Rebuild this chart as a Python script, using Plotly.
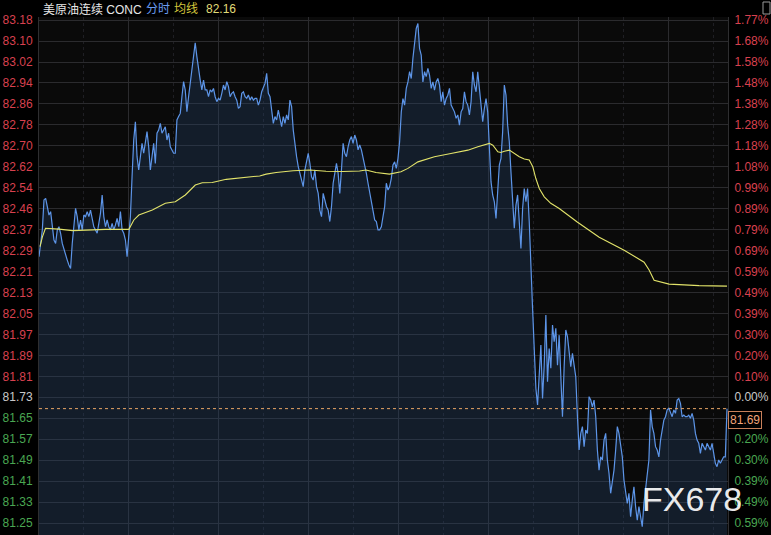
import numpy as np
import plotly.graph_objects as go

# ---- price series (1-minute style samples) ----
seg1 = [82.268, 82.319, 82.371, 82.486, 82.492, 82.460, 82.428, 82.441, 82.383, 82.332,
        82.319, 82.371, 82.383, 82.358, 82.319, 82.294, 82.275, 82.255, 82.236, 82.223,
        82.319, 82.396, 82.454, 82.422, 82.371, 82.409, 82.371, 82.428, 82.422, 82.441,
        82.422, 82.447, 82.409, 82.383, 82.371, 82.358, 82.396, 82.435, 82.505, 82.422,
        82.383, 82.409, 82.383, 82.371, 82.396, 82.371, 82.390, 82.415, 82.383, 82.441,
        82.371, 82.358, 82.332, 82.268, 82.345, 82.422, 82.575, 82.716, 82.786, 82.652,
        82.601, 82.652, 82.703, 82.665, 82.716, 82.748, 82.690, 82.601, 82.652, 82.703,
        82.626, 82.742, 82.754, 82.780, 82.742, 82.754, 82.767, 82.716, 82.742, 82.690,
        82.678, 82.665, 82.665, 82.793, 82.806, 82.818, 82.882, 82.940, 82.908, 82.825,
        82.882, 82.933, 82.972, 83.023, 83.089, 83.036, 82.985, 82.946, 82.908, 82.946,
        82.908, 82.908, 82.882, 82.908, 82.901]
seg2 = [82.914, 82.882, 82.863, 82.876, 82.869, 82.895, 82.927, 82.908, 82.940, 82.921,
        82.882, 82.895, 82.901, 82.882, 82.869, 82.837, 82.844, 82.895, 82.901, 82.882,
        82.876, 82.889, 82.869, 82.882, 82.869, 82.876, 82.876, 82.850, 82.869, 82.901,
        82.914, 82.933, 82.972, 82.895, 82.882, 82.825, 82.780, 82.806, 82.793, 82.831,
        82.799, 82.767, 82.806, 82.780, 82.812, 82.793, 82.869, 82.844, 82.754, 82.690,
        82.652, 82.614, 82.588, 82.562, 82.537, 82.601, 82.639, 82.665, 82.626, 82.575,
        82.562, 82.601, 82.537, 82.511, 82.447, 82.422, 82.511, 82.486, 82.460, 82.447,
        82.403, 82.460, 82.550, 82.588, 82.626, 82.588, 82.511, 82.601, 82.703, 82.665,
        82.652, 82.690, 82.716, 82.729, 82.703, 82.735, 82.716, 82.678, 82.697, 82.678,
        82.652, 82.626, 82.588, 82.550, 82.511, 82.473, 82.441, 82.409, 82.403, 82.371,
        82.371, 82.383, 82.422, 82.460, 82.550, 82.524, 82.537]
seg3 = [82.569, 82.620, 82.632, 82.607, 82.645, 82.709, 82.824, 82.875, 82.850, 82.914,
        82.939, 82.978, 82.952, 83.029, 83.080, 83.144, 83.163, 83.067, 83.042, 82.939,
        82.978, 82.959, 82.991, 82.965, 82.914, 82.939, 82.907, 82.939, 82.952, 82.927,
        82.863, 82.901, 82.850, 82.875, 82.888, 82.914, 82.850, 82.837, 82.824, 82.799,
        82.812, 82.773, 82.824, 82.837, 82.901, 82.863, 82.850, 82.812, 82.863, 82.978,
        82.927, 82.901, 82.978, 82.914, 82.837, 82.786, 82.837, 82.875, 82.824, 82.684,
        82.556, 82.505, 82.479, 82.415, 82.505, 82.620, 82.645, 82.748, 82.927, 82.888,
        82.773, 82.709, 82.594, 82.505, 82.377, 82.466, 82.505, 82.402, 82.300, 82.453,
        82.530, 82.479, 82.530, 82.402, 82.198, 82.070, 81.916, 81.763, 81.699, 81.814,
        81.929, 81.724, 81.852, 82.044, 81.788, 81.916, 81.840, 82.006, 81.942, 81.993,
        81.852, 81.967]
seg4 = [81.820, 81.654, 81.846, 81.987, 81.961, 81.897, 81.846, 81.897, 81.859, 81.807,
        81.654, 81.526, 81.590, 81.616, 81.539, 81.603, 81.590, 81.731, 81.718, 81.692,
        81.718, 81.654, 81.526, 81.449, 81.500, 81.488, 81.564, 81.590, 81.488, 81.437,
        81.360, 81.411, 81.449, 81.526, 81.616, 81.590, 81.552, 81.500, 81.411, 81.373,
        81.321, 81.360, 81.270, 81.334, 81.385, 81.309, 81.257, 81.309, 81.270, 81.232,
        81.321, 81.385, 81.424, 81.488, 81.680, 81.616, 81.590, 81.539, 81.526, 81.500,
        81.564, 81.603, 81.641, 81.654, 81.680, 81.686, 81.667, 81.654, 81.680, 81.667,
        81.718, 81.724, 81.705, 81.654, 81.660, 81.654, 81.654, 81.660, 81.648, 81.667,
        81.641, 81.590, 81.564, 81.552, 81.513, 81.552, 81.539, 81.526, 81.552, 81.539,
        81.526, 81.552, 81.513, 81.475, 81.462, 81.488, 81.475, 81.488, 81.500, 81.500,
        81.685]

# ---- average line (minute, value) ----
avg_t = [2, 7, 13, 40, 67, 100, 133, 180, 190, 200, 227, 253, 273, 293, 313, 327, 347,
         375, 409, 442, 455, 475, 509, 542, 575, 609, 642, 655, 675, 702, 725, 739, 759,
         792, 825, 859, 879, 892, 902, 909, 919, 925, 932, 942, 952, 962, 972, 982, 989,
         995, 1002, 1012, 1025, 1042, 1078, 1122, 1172, 1212, 1222, 1232, 1262, 1322, 1378]
avg_v = [82.307, 82.345, 82.377, 82.374, 82.368, 82.371, 82.373, 82.373, 82.409, 82.428,
         82.447, 82.473, 82.479, 82.505, 82.543, 82.552, 82.553, 82.565, 82.571, 82.578,
         82.585, 82.591, 82.598, 82.601, 82.596, 82.595, 82.597, 82.601, 82.591, 82.585,
         82.594, 82.607, 82.632, 82.652, 82.664, 82.677, 82.690, 82.699, 82.703, 82.696,
         82.671, 82.668, 82.673, 82.677, 82.664, 82.652, 82.643, 82.639, 82.613, 82.569,
         82.530, 82.498, 82.473, 82.453, 82.401, 82.343, 82.293, 82.247, 82.217, 82.178,
         82.163, 82.157, 82.155]

left_labels = ["83.18", "83.10", "83.02", "82.94", "82.86", "82.78", "82.70", "82.62",
               "82.54", "82.46", "82.37", "82.29", "82.21", "82.13", "82.05", "81.97",
               "81.89", "81.81", "81.73", "81.65", "81.57", "81.49", "81.41", "81.33", "81.25"]
right_labels = ["1.77%", "1.68%", "1.58%", "1.48%", "1.38%", "1.28%", "1.18%", "1.08%",
                "0.99%", "0.89%", "0.79%", "0.69%", "0.59%", "0.49%", "0.39%", "0.30%",
                "0.20%", "0.10%", "0.00%", "", "0.20%", "0.30%", "0.39%", "0.49%", "0.59%"]
axis_top, axis_bottom = 83.176, 81.246
ref_index = 18  # previous close row (81.73 / 0.00%)

header_name = "美原油连续 CONC"
header_mode = "分时"
header_avg = "均线"
header_avg_val = "82.16"
last_label = "81.69"
watermark = "FX678"

price = seg1 + seg2 + seg3 + seg4
minutes = np.linspace(0, 1378, len(price))

RED, GREEN, GREY = "#d8414f", "#4aa752", "#c8c8c8"

def colored(labels):
    out = []
    for i, s in enumerate(labels):
        c = RED if i < ref_index else (GREY if i == ref_index else GREEN)
        out.append(f'<span style="color:{c}">{s}</span>' if s else "")
    return out

tickvals = list(np.linspace(axis_top, axis_bottom, len(left_labels)))

fig = go.Figure()
fig.add_trace(go.Scatter(
    x=minutes, y=price, mode="lines",
    line=dict(color="#5d95e8", width=1.2),
    fill="tozeroy", fillcolor="rgba(40,70,110,0.33)",
    hoverinfo="skip", showlegend=False))
fig.add_trace(go.Scatter(
    x=avg_t, y=avg_v, mode="lines",
    line=dict(color="#e2e36a", width=1.1),
    hoverinfo="skip", showlegend=False))
fig.add_trace(go.Scatter(
    x=[minutes[-1]], y=[price[-1]], yaxis="y2", mode="lines",
    hoverinfo="skip", showlegend=False))

yr = [81.200, 83.188]
tickfont = dict(family="Liberation Sans, Arial, sans-serif", size=12)
fig.update_layout(
    width=771, height=535,
    margin=dict(l=39, r=43, t=17, b=0),
    paper_bgcolor="#000000", plot_bgcolor="#0a0a0a",
    xaxis=dict(range=[0, 1380], tickvals=[180, 360, 540, 720, 900, 1080, 1260],
               showticklabels=False, ticks="", showgrid=True, gridcolor="#2b2b2e",
               gridwidth=1, zeroline=False, showline=False, automargin=False,
               minor=dict(tickvals=[90, 270, 450, 630, 810, 990, 1170, 1350],
                          showgrid=True, gridcolor="#1f1f24", griddash="dot")),
    yaxis=dict(range=yr, tickvals=tickvals, ticktext=colored(left_labels),
               tickfont=tickfont, ticks="", showgrid=True, gridcolor="#2b2b2e",
               zeroline=False, showline=True, linecolor="#2e2e30", ticklabelstandoff=3,
               automargin=False),
    yaxis2=dict(range=yr, overlaying="y", side="right", tickvals=tickvals,
                ticktext=colored(right_labels), tickfont=tickfont, ticks="",
                showgrid=False, zeroline=False, showline=True, linecolor="#2e2e30",
                ticklabelstandoff=3, automargin=False),
)

# last-price dashed line + label box
fig.add_shape(type="line", xref="paper", x0=0, x1=1, yref="y", y0=price[-1], y1=price[-1],
              line=dict(color="#e8a565", width=1, dash="3px,3px"))
fig.add_annotation(xref="paper", x=1, xanchor="left", yref="y", y=price[-1], yanchor="top",
                   yshift=-2, text=last_label, showarrow=False, bgcolor="#000000",
                   bordercolor="#c8805a", borderwidth=1, borderpad=1,
                   font=dict(family="Liberation Sans, Arial", size=12, color="#f0a47a"))

# header
hy = 1 + (17 - 9) / 518
hfont = "Liberation Sans, Noto Sans CJK SC, sans-serif"
for px, txt, col in [(40.5, header_name, "#e6e6e6"), (144, header_mode, "#6a9cf0"),
                     (172, header_avg, "#d4c63c"), (204, header_avg_val, "#e0dc78")]:
    fig.add_annotation(xref="paper", yref="paper", x=(px - 39) / 689, y=hy,
                       xanchor="left", yanchor="middle", text=txt, showarrow=False,
                       font=dict(family=hfont, size=12, color=col))

# top-right icon
fig.add_shape(type="rect", xref="paper", yref="paper",
              x0=(763 - 39) / 689, x1=(770 - 39) / 689,
              y0=1 + (17 - 14) / 518, y1=1 + (17 - 2) / 518,
              line=dict(color="#9a9a9a", width=1))

# watermark
fig.add_annotation(xref="paper", yref="paper", x=(692 - 39) / 689, y=1 - (499 - 17) / 518,
                   xanchor="center", yanchor="middle", text=watermark, showarrow=False,
                   font=dict(family="Liberation Sans, Arial", size=34,
                             color="rgba(255,255,255,0.93)"))

fig.write_html("out.html", config={"displayModeBar": False},
               post_script="document.body.style.margin='0';document.body.style.overflow='hidden';document.body.style.background='#000';")
